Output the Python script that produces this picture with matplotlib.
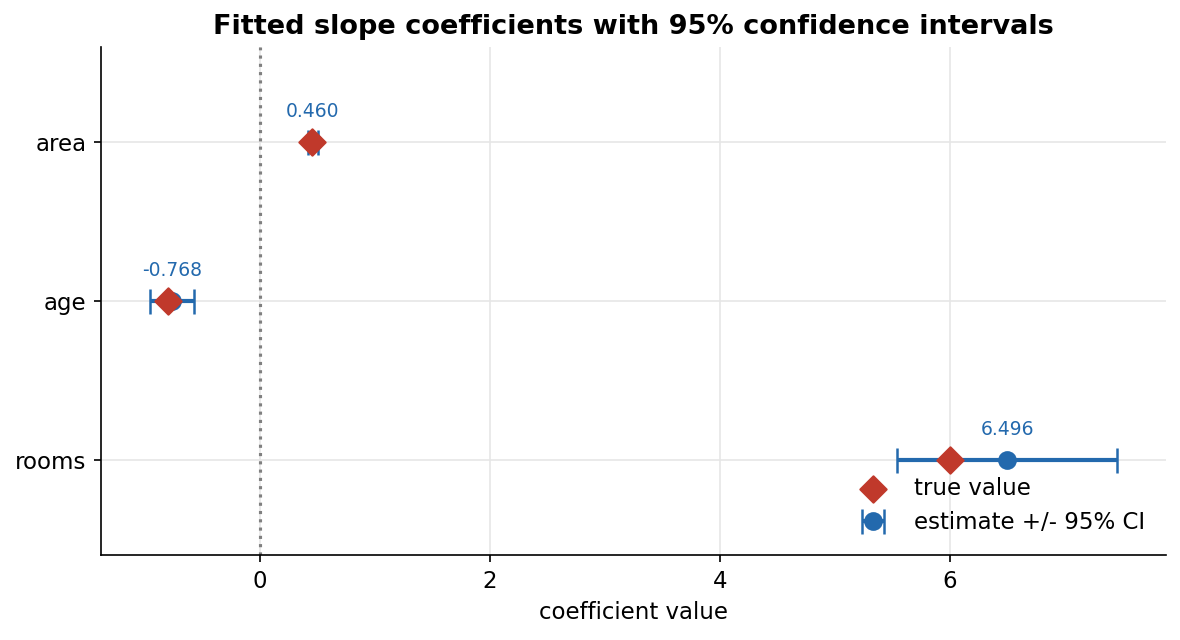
"""
Fitted slope coefficients vs true values, with 95% CIs
"""
import matplotlib
matplotlib.use('Agg')
import matplotlib.pyplot as plt

features = ['area', 'age', 'rooms']
estimates = [0.460, -0.768, 6.496]
ci_half = [0.04, 0.190, 0.956]
true_values = [0.45, -0.80, 6.0]

blue = '#2369ad'
red = '#c0392b'

fig, ax = plt.subplots(figsize=(1180 / 150, 640 / 150), dpi=150)

ys = list(range(len(features)))

ax.axvline(0, color='gray', linestyle=':', linewidth=1.5, zorder=1)
ax.errorbar(estimates, ys, xerr=ci_half, fmt='o', color=blue, ecolor=blue,
            elinewidth=2, capsize=6, capthick=1.2, markersize=8,
            label='estimate +/- 95% CI', zorder=3)
ax.scatter(true_values, ys, marker='D', s=80, color=red, label='true value', zorder=4)

for est, y in zip(estimates, ys):
    ax.annotate(f'{est:.3f}', (est, y), xytext=(0, 10), textcoords='offset points',
                ha='center', va='bottom', fontsize=9, color=blue)

ax.set_yticks(ys)
ax.set_yticklabels(features, fontsize=11)
ax.set_ylim(2.6, -0.6)
ax.set_xlim(-1.383, 7.878)
ax.tick_params(axis='x', labelsize=11)
ax.set_xlabel('coefficient value', fontsize=11)
ax.set_title('Fitted slope coefficients with 95% confidence intervals',
             fontsize=13, fontweight='bold')
ax.grid(True, color='#e6e6e6', linewidth=0.8)
ax.set_axisbelow(True)
ax.spines['top'].set_visible(False)
ax.spines['right'].set_visible(False)
ax.legend(loc='lower right', frameon=False, fontsize=11)

fig.subplots_adjust(left=101 / 1180, right=1166 / 1180, top=1 - 47 / 640, bottom=1 - 555 / 640)
fig.savefig('out.png', dpi=150)
